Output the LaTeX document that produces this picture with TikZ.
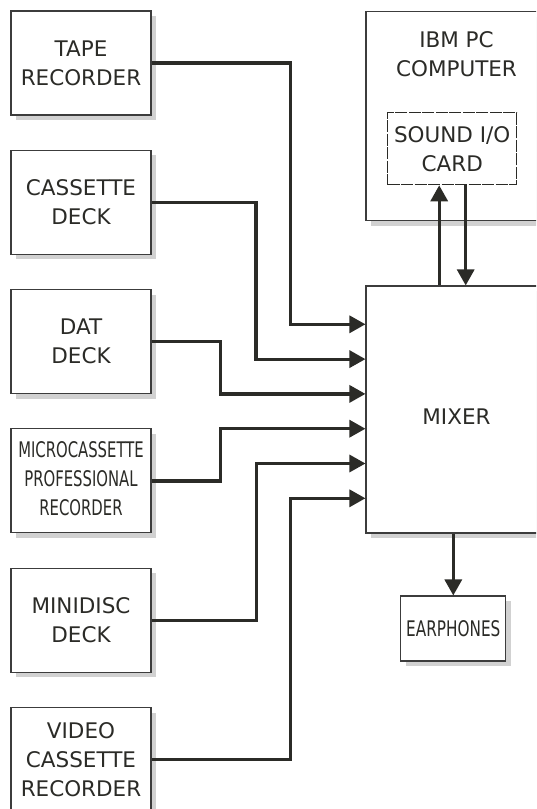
\documentclass[tikz,border=0pt]{standalone}
\usepackage{graphicx}
\usepackage{fontspec}
\setmainfont{DejaVu Sans}
\usetikzlibrary{arrows.meta,shadows}

\definecolor{ink}{HTML}{2B2B27}
\definecolor{edge}{HTML}{3C3C3C}

\tikzset{
    boxtext/.style={text=ink, align=center, font=\fontsize{21.5}{29}\selectfont},
    box/.style={boxtext, draw=edge, line width=1.1pt, fill=white, inner sep=0pt,
        drop shadow={shadow xshift=5pt, shadow yshift=-5pt, fill=black!18, opacity=1}},
    srcbox/.style={box, minimum width=140pt, minimum height=104pt},
    sig/.style={draw=ink, line width=3.2pt, -{Triangle[length=16pt,width=17pt]}}
}

\begin{document}
\begin{tikzpicture}[x=1pt, y=-1pt]

    \clip (0,0) rectangle (536,809);
    \fill[white] (0,0) rectangle (536,809);

    % 1. Source boxes on the left
    \node[srcbox] (tape)  at (81,63)    {TAPE\\RECORDER};
    \node[srcbox] (cass)  at (81,202.3) {CASSETTE\\DECK};
    \node[srcbox] (dat)   at (81,341.6) {DAT\\DECK};
    \node[srcbox] (micro) at (81,480.9) {\scalebox{.69}[1]{\begin{tabular}{@{}c@{}}MICROCASSETTE\\PROFESSIONAL\\RECORDER\end{tabular}}};
    \node[srcbox] (mini)  at (81,620.2) {MINIDISC\\DECK};
    \node[srcbox] (video) at (81,759.5) {VIDEO\\CASSETTE\\RECORDER};

    % 2. Computer with the sound card
    \node[box, minimum width=181pt, minimum height=209pt,
          label={[boxtext, anchor=north, yshift=-20pt, inner sep=0pt]north:{IBM PC\\COMPUTER}}] (ibm) at (456.5,116.2) {};
    \node[boxtext, draw=ink, line width=1pt, dash pattern=on 12pt off 1.5pt,
          minimum width=129pt, minimum height=72pt, inner sep=0pt] (card) at (452.2,148.8) {SOUND I/O\\CARD};

    % 3. Mixer and earphones
    \node[box, minimum width=181pt, minimum height=247pt, text height=30pt] (mixer) at (456.5,409.5) {MIXER};
    \node[box, minimum width=105pt, minimum height=65pt] (ear) at (453.3,628.5) {\scalebox{.71}[1]{EARPHONES}};

    % 4. Inputs into the mixer
    \foreach \src/\xv [count=\i] in {tape/290.5, cass/256, dat/220.5, micro/220.5, mini/256.5, video/290.5}{
        \pgfmathsetmacro\yt{324.3+34.8*(\i-1)}
        \draw[sig] (\src.east) -| (\xv,\yt) -- (mixer.west |- 0,\yt);
    }

    % 5. Card <-> mixer, mixer -> earphones
    \coordinate (up) at ([xshift=-13pt]card.south);
    \coordinate (dn) at ([xshift=13.5pt]card.south);
    \draw[sig] (up |- mixer.north) -- (up);
    \draw[sig] (dn) -- (dn |- mixer.north);
    \draw[sig] (mixer.south -| ear.north) -- (ear.north);

\end{tikzpicture}
\end{document}
